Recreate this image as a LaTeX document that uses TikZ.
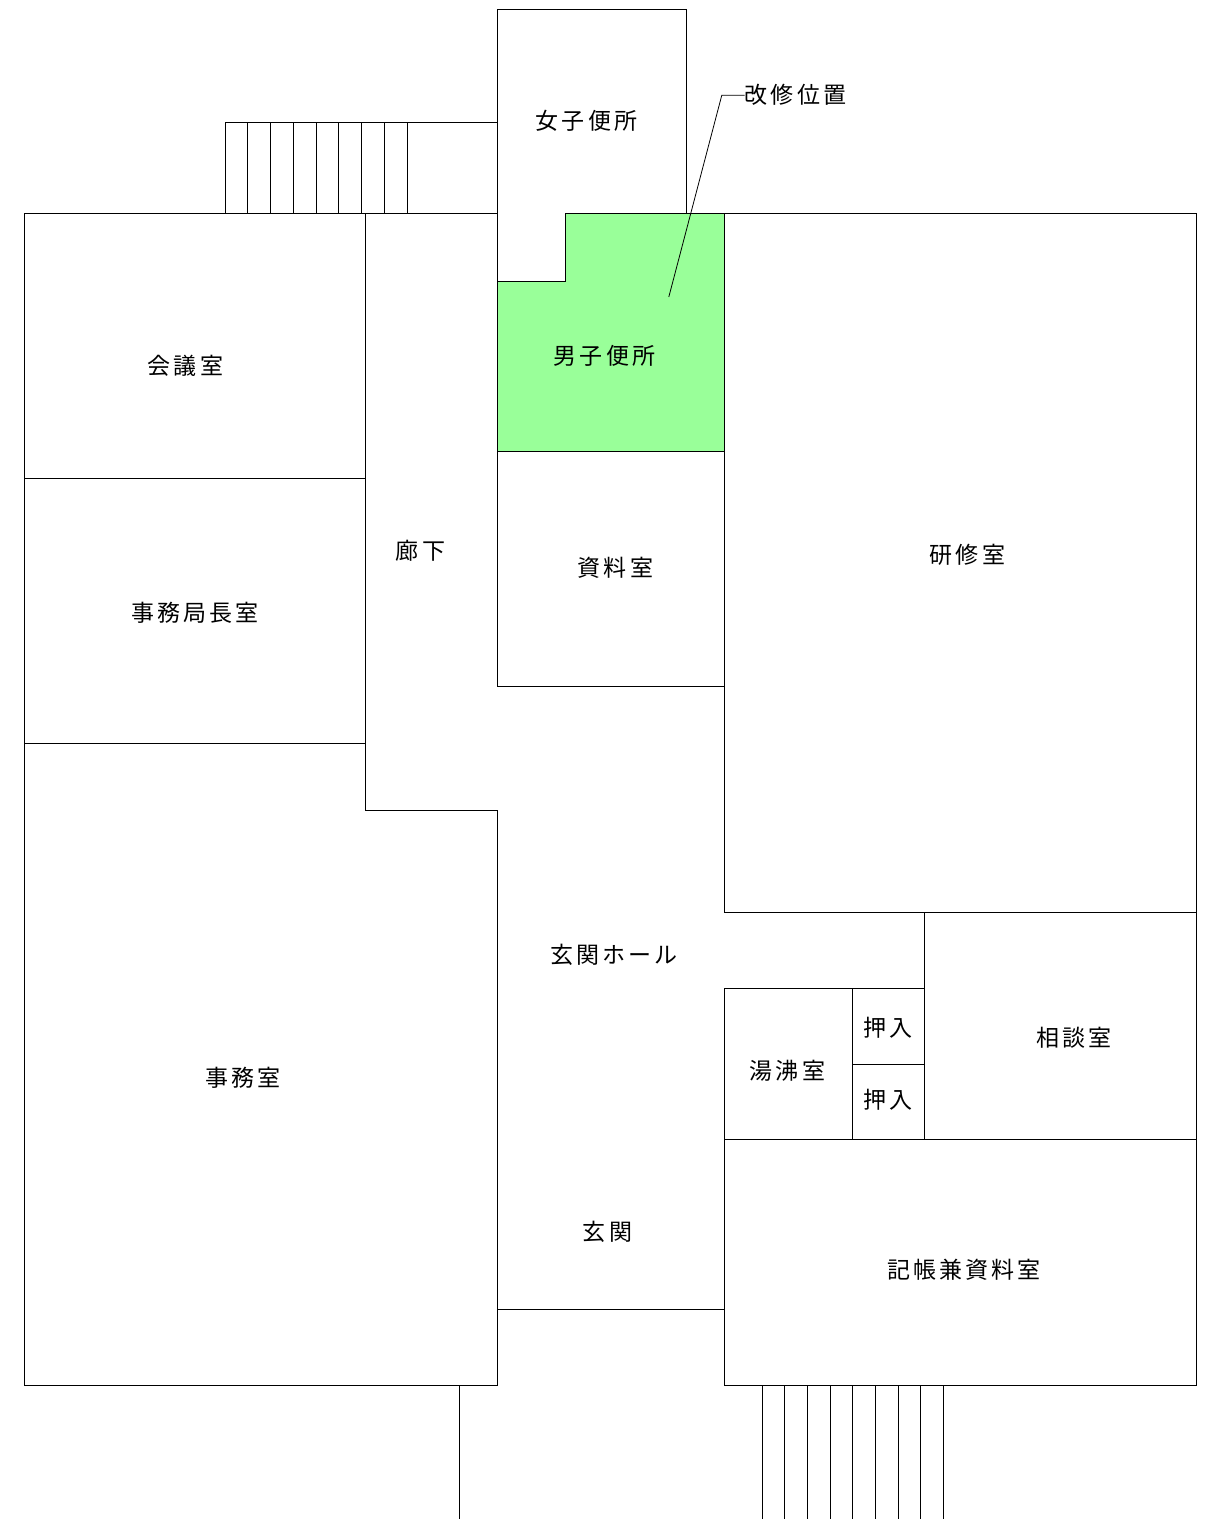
\documentclass[tikz,border=0pt]{standalone}
\usepackage{fontspec}
\newfontfamily\jpfont[LetterSpace=13.5]{Noto Sans CJK JP}
\definecolor{repaired}{RGB}{153,255,153}
\tikzset{
  wall/.style  = {draw=black, line width=0.9pt},
  room/.style  = {inner sep=0pt, font=\fontsize{23}{25}\jpfont},
  marked/.style = {wall, fill=repaired}
}

\begin{document}
\begin{tikzpicture}[x=1pt,y=-1pt]
\useasboundingbox (0,0) rectangle (1215,1519);
% repaired room
\draw[marked] (565,213) -- (724,213) -- (724,451.5) -- (497,451.5) -- (497,281) -- (565,281) -- cycle;
% west wing
\draw[wall] (497,213) -- (24,213) -- (24,1385) -- (497,1385) -- (497,810) -- (365,810) -- (365,213);
\draw[wall] (24,478) -- (365,478);
\draw[wall] (24,743) -- (365,743);
% north rooms
\draw[wall] (497,281) -- (497,9.5) -- (686,9.5) -- (686,213);
\draw[wall] (497,451.5) -- (497,686) -- (724,686) -- (724,451.5);
% east wing
\draw[wall] (724,213) -- (1196,213) -- (1196,1385) -- (724,1385) -- (724,988);
\draw[wall] (724,686) -- (724,912) -- (1196,912);
\draw[wall] (924,912) -- (924,1139);
\draw[wall] (724,988) -- (924,988);
\draw[wall] (852,988) -- (852,1139);
\draw[wall] (852,1064) -- (924,1064);
\draw[wall] (724,1139) -- (1196,1139);
% entrance
\draw[wall] (497,1309) -- (724,1309);
\draw[wall] (459,1385) -- (459,1519.5);
% steps
\draw[wall] (225,122) -- (497,122);
\foreach \x in {225,247.5,270,293,316,338.5,361,384,407}
  \draw[wall] (\x,122) -- (\x,213);
\foreach \x in {762,784.5,807,830,852.5,875,898,920.5,943}
  \draw[wall] (\x,1385) -- (\x,1519.5);
% labels
\node[room] (women) at (586.5,121.2) {女子便所};
\node[room] (men) at (604.5,356.2) {男子便所};
\node[room] (repair) at (795.5,95.2) {改修位置};
\node[room] (meeting) at (185.5,366.2) {会議室};
\node[room] (corridor) at (420.5,551.2) {廊下};
\node[room] (archive) at (615.5,568.2) {資料室};
\node[room] (training) at (967.5,555.2) {研修室};
\node[room] (director) at (195,613.2) {事務局長室};
\node[room] (hall) at (614,955.2) {玄関ホール};
\node[room] (closeta) at (888,1028.2) {押入};
\node[room] (closetb) at (888,1100.2) {押入};
\node[room] (consult) at (1074,1038.2) {相談室};
\node[room] (kitchen) at (787.5,1071.2) {湯沸室};
\node[room] (office) at (243,1078.2) {事務室};
\node[room] (entrance) at (607.5,1232.2) {玄関};
\node[room] (records) at (964,1270.2) {記帳兼資料室};
% leader
\coordinate (target) at (668.8,297);
\draw[line width=0.8pt] (repair.west) -- (721.8,95.2) -- (target);
\end{tikzpicture}
\end{document}
